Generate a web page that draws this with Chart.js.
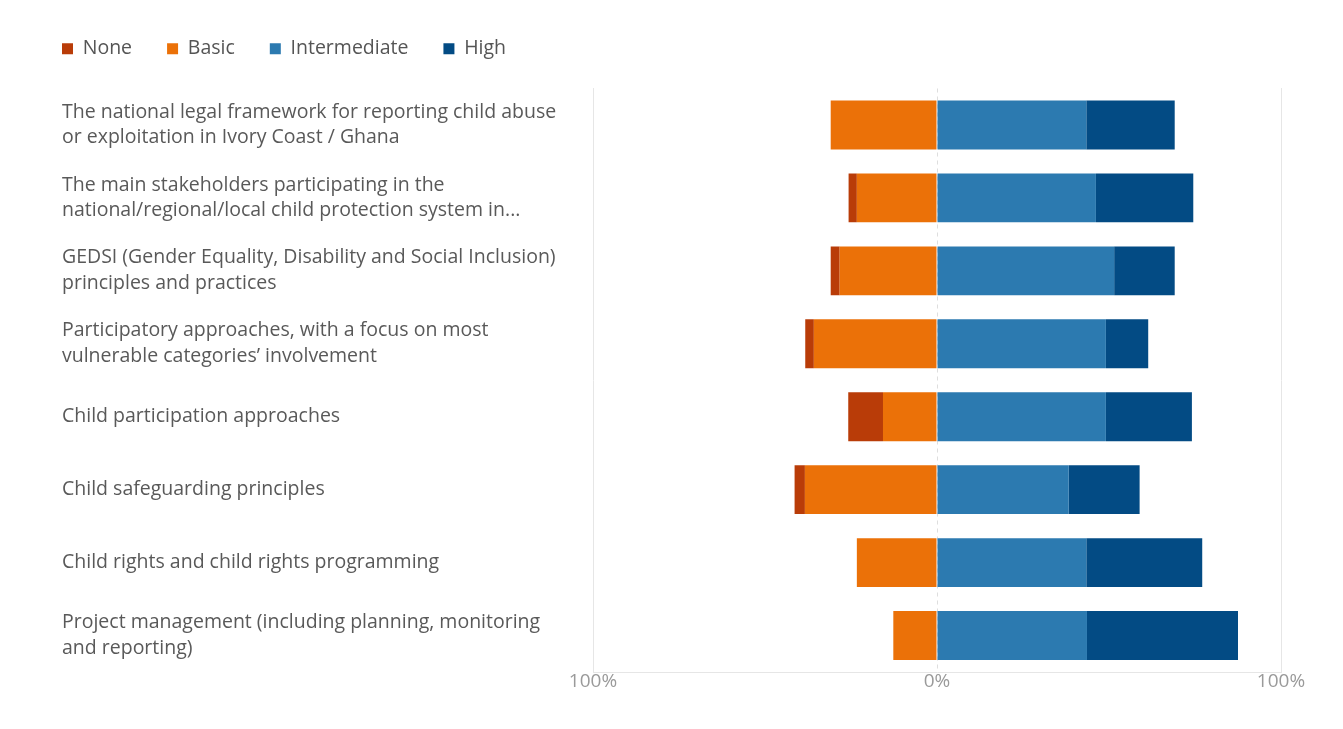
<!DOCTYPE html>
<html>
<head>
<meta charset="utf-8">
<script src="https://cdn.jsdelivr.net/npm/chart.js@4.4.1/dist/chart.umd.min.js"></script>
<style>
  html, body { margin: 0; padding: 0; background: #fff; }
  #wrap { position: relative; width: 1343px; height: 729px; }
</style>
</head>
<body>
<div id="wrap"><canvas id="chart"></canvas></div>
<script>
// Skill levels, share of respondents (%)
const categories = [
  ['The national legal framework for reporting child abuse', 'or exploitation in Ivory Coast / Ghana'],
  ['The main stakeholders participating in the', 'national/regional/local child protection system in...'],
  ['GEDSI (Gender Equality, Disability and Social Inclusion)', 'principles and practices'],
  ['Participatory approaches, with a focus on most', 'vulnerable categories\u2019 involvement'],
  'Child participation approaches',
  'Child safeguarding principles',
  'Child rights and child rights programming',
  ['Project management (including planning, monitoring', 'and reporting)']
];
const noneVals         = [0, 2.4, 2.6, 2.5, 10.1, 3.0, 0, 0];
const basicVals        = [30.9, 23.3, 28.3, 35.8, 15.7, 38.4, 23.3, 12.7];
const intermediateVals = [43.4, 46.2, 51.5, 49.1, 49.1, 38.3, 43.4, 43.6];
const highVals         = [25.7, 28.3, 17.6, 12.3, 25.0, 20.6, 33.7, 43.9];
const xTicks = [-100, 0, 100];

const FONT = '"Open Sans", "Noto Sans", sans-serif';

// legend labels.padding also offsets the first item; pull it back,
// and leave a bit more room under the legend
const legendTweak = {
  id: 'legendTweak',
  afterInit(chart) {
    const fit = chart.legend.fit;
    chart.legend.fit = function () {
      fit.call(this);
      this.height += 20;
    };
  },
  afterLayout(chart) {
    chart.legend.left -= 35;
    chart.legend.right -= 35;
  }
};

const barOpts = { barPercentage: 0.67, categoryPercentage: 1, borderWidth: 0 };

new Chart(document.getElementById('chart'), {
  type: 'bar',
  data: {
    labels: categories,
    datasets: [
      { label: 'None', data: noneVals.map(v => -v), backgroundColor: '#B93C08', order: 2, ...barOpts },
      { label: 'Basic', data: basicVals.map(v => -v), backgroundColor: '#EB7108', order: 1, ...barOpts },
      { label: 'Intermediate', data: intermediateVals, backgroundColor: '#2C7AB0', order: 3, ...barOpts },
      { label: 'High', data: highVals, backgroundColor: '#034B84', order: 4, ...barOpts }
    ]
  },
  options: {
    indexAxis: 'y',
    responsive: true,
    maintainAspectRatio: false,
    animation: false,
    layout: { padding: { left: 62, right: 62, top: 4, bottom: 38 } },
    plugins: {
      legend: {
        position: 'top',
        align: 'start',
        labels: {
          boxWidth: 11,
          boxHeight: 11,
          padding: 35,
          color: '#555',
          font: { family: FONT, size: 19.5 },
          sort: (a, b) => a.datasetIndex - b.datasetIndex
        }
      },
      tooltip: { enabled: false }
    },
    scales: {
      x: {
        stacked: true,
        min: -100,
        max: 100,
        afterBuildTicks: axis => { axis.ticks = xTicks.map(v => ({ value: v })); },
        ticks: {
          padding: 0,
          color: '#9a9a9a',
          font: { family: FONT, size: 19, lineHeight: 1 },
          callback: v => Math.abs(v) + '%'
        },
        grid: {
          drawTicks: false,
          color: ctx => (ctx.tick && ctx.tick.value === 0) ? '#dedede' : 'rgba(0,0,0,0)'
        },
        border: { display: true, color: '#e6e6e6', dash: [4, 4] }
      },
      y: {
        stacked: true,
        afterFit: axis => { axis.width = 531; },
        ticks: {
          crossAlign: 'far',
          color: '#595959',
          font: { family: FONT, size: 19.5, lineHeight: 1.33 }
        },
        grid: { display: false },
        border: { display: true, color: '#e6e6e6' }
      },
      y2: {
        position: 'right',
        type: 'category',
        afterFit: axis => { axis.width = 0; },
        ticks: { display: false },
        grid: { display: false, drawTicks: false },
        border: { display: true, color: '#e6e6e6' }
      }
    }
  },
  plugins: [legendTweak]
});
</script>
</body>
</html>
